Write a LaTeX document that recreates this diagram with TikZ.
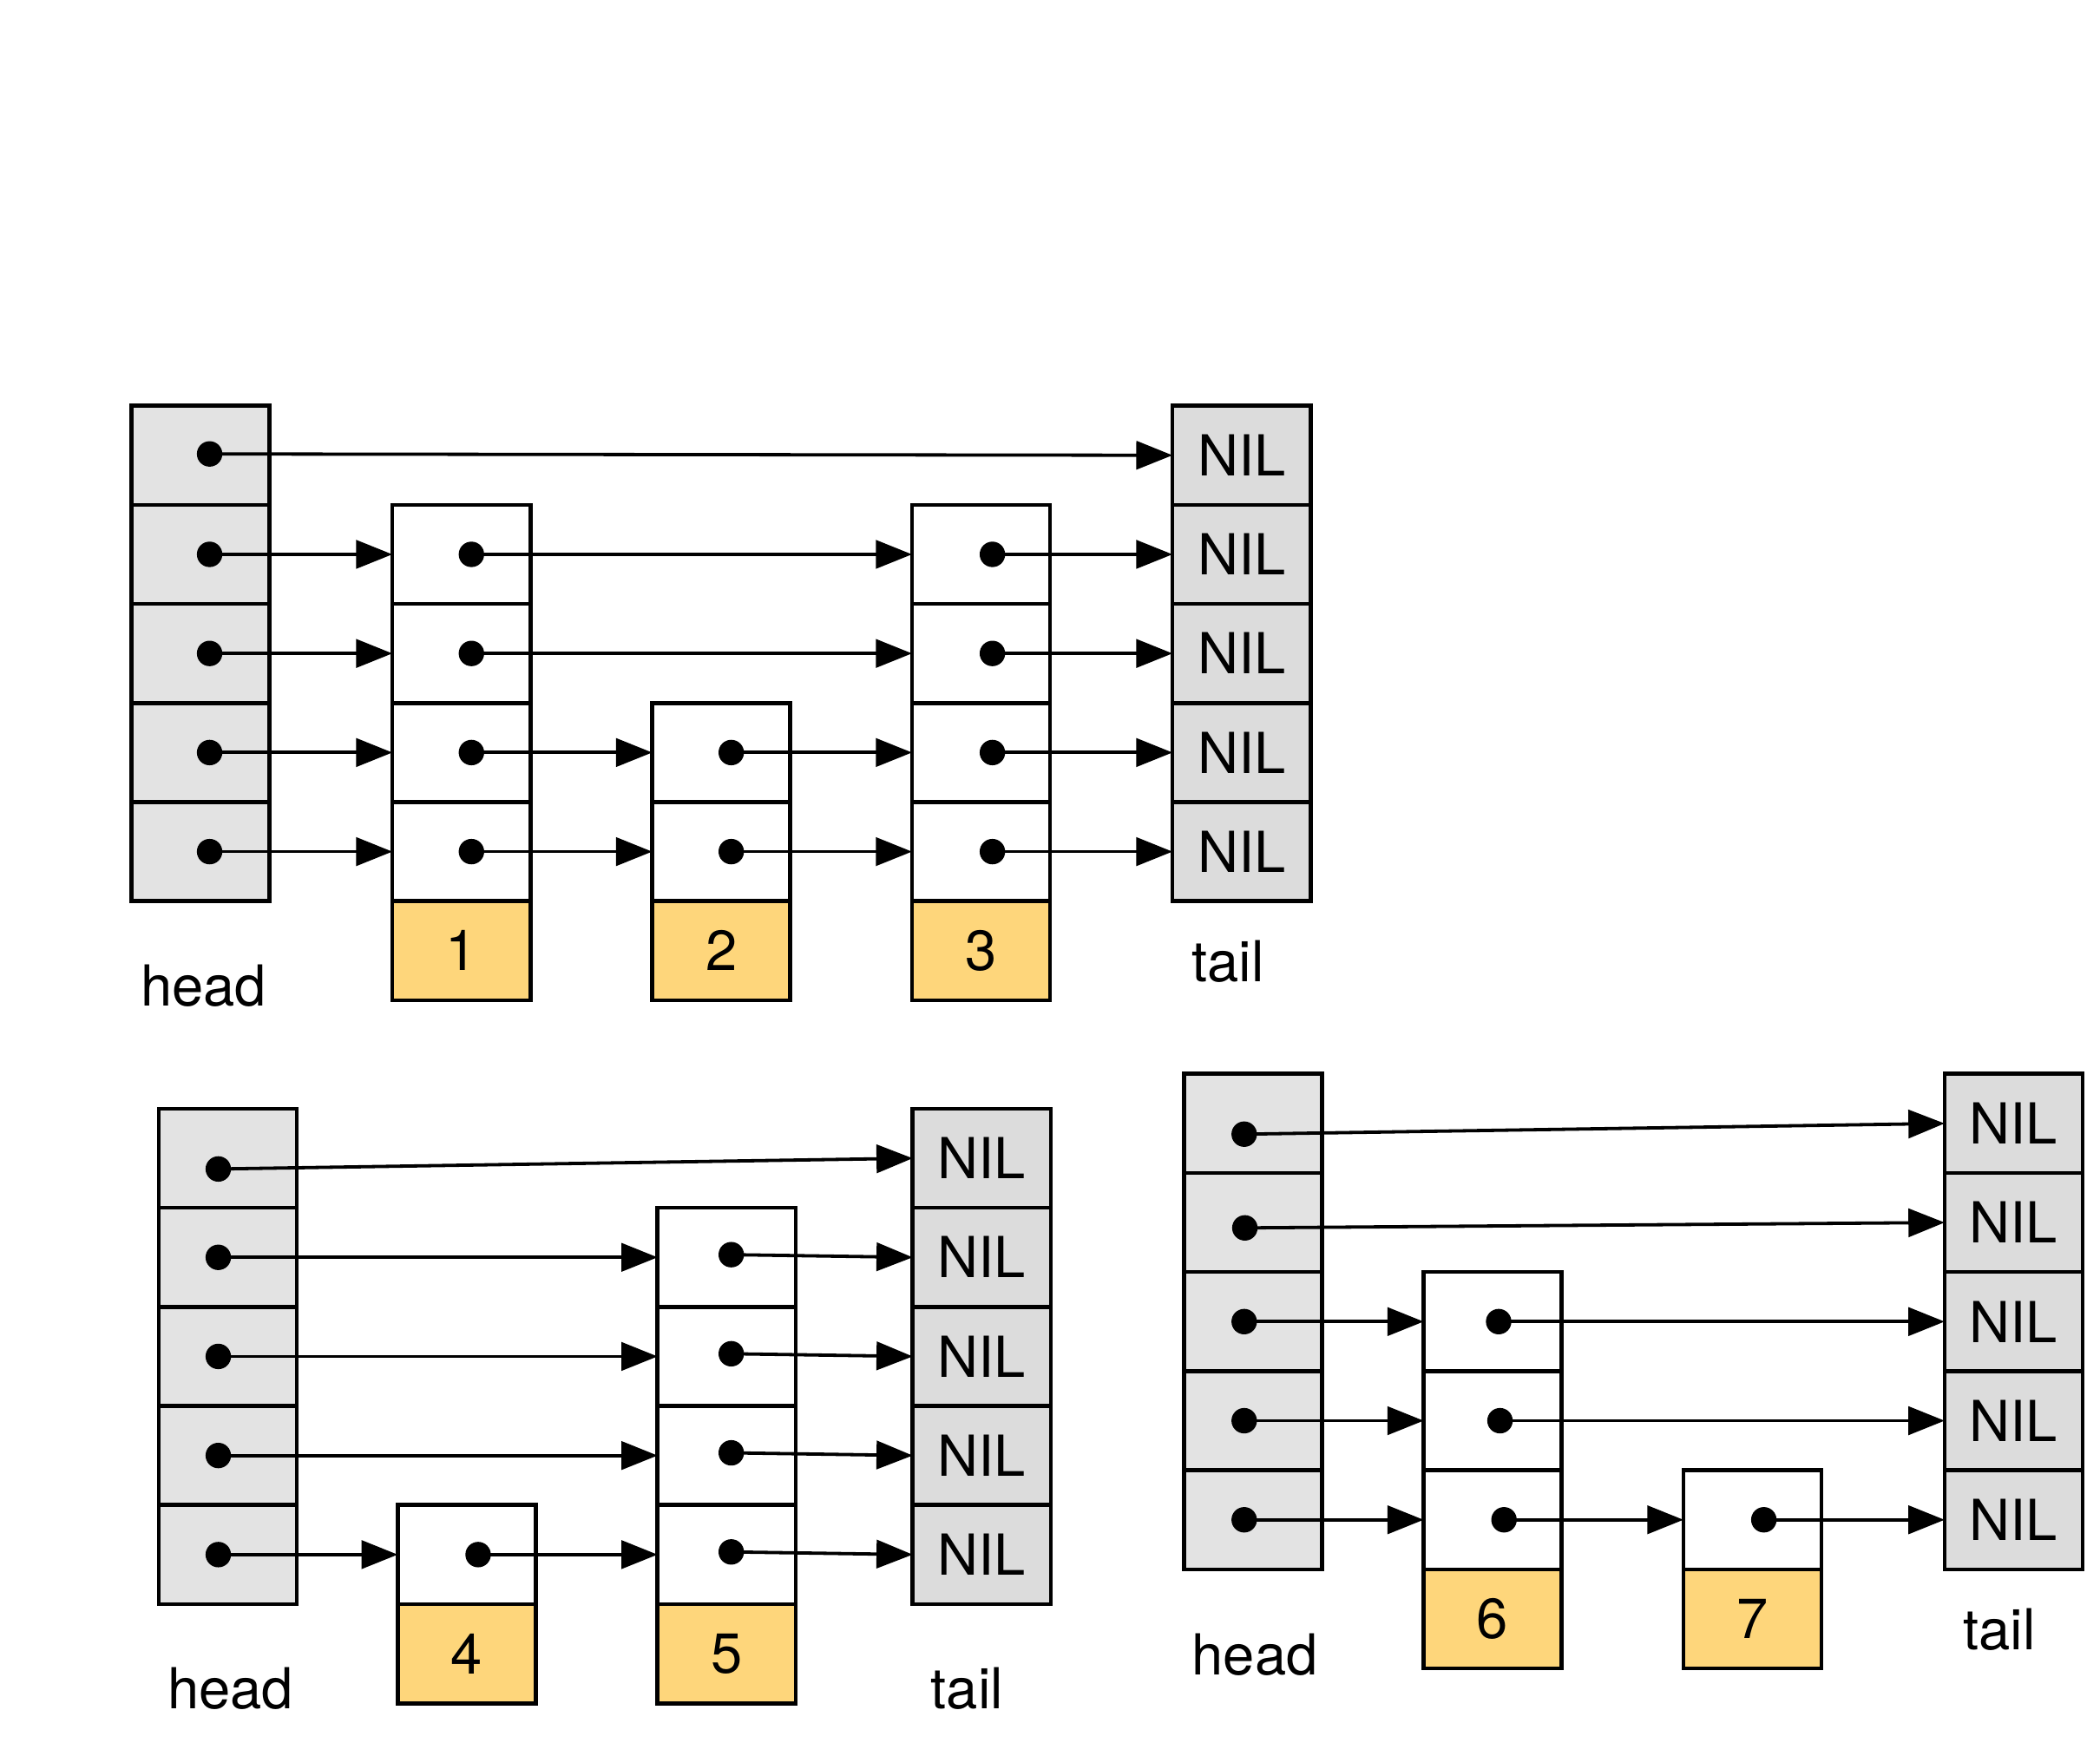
\documentclass[tikz,border=0pt]{standalone}
\usepackage{fontspec}
\setmainfont{TeX Gyre Heros}
\usetikzlibrary{arrows.meta}
\definecolor{headgray}{HTML}{E3E3E3}
\definecolor{tailgray}{HTML}{DCDCDC}
\definecolor{keyyellow}{HTML}{FED67B}
\begin{document}
\begin{tikzpicture}[x=0.01cm,y=-0.01cm,
 cell/.style={draw=black,line width=0.85pt,minimum width=1.03cm,minimum height=0.74cm,inner sep=0pt,outer sep=0pt},
 headcell/.style={cell,fill=headgray},
 tailcell/.style={cell,fill=tailgray,font=\fontsize{12}{14}\selectfont},
 nodecell/.style={cell,fill=white},
 keycell/.style={cell,fill=keyyellow,font=\fontsize{12}{14}\selectfont},
 dot/.style={circle,fill=black,inner sep=0pt,minimum size=0.19cm},
 ptr/.style={line width=0.7pt,-{Triangle[length=0.27cm,width=0.21cm]}},
 lbl/.style={font=\fontsize{12}{14}\selectfont,inner sep=0pt}]
\useasboundingbox (0,0) rectangle (1568,1311);

% ---------------- Diagram A (top) ----------------
\foreach \r/\y in {1/340,2/414,3/488,4/562,5/636} {
  \node[headcell] (Ah\r) at (149.5,\y) {};
  \node[tailcell] (At\r) at (927,\y) {NIL};
}
\foreach \r/\y in {2/414,3/488,4/562,5/636} {
  \node[nodecell] (A1c\r) at (344.5,\y) {};
  \node[nodecell] (A3c\r) at (732.5,\y) {};
}
\foreach \r/\y in {4/562,5/636} {
  \node[nodecell] (A2c\r) at (538.5,\y) {};
}
\node[keycell] (A1k) at (344.5,710) {1};
\node[keycell] (A2k) at (538.5,710) {2};
\node[keycell] (A3k) at (732.5,710) {3};
\node[lbl] (Ahl) at (152,736) {head};
\node[lbl] (Atl) at (917,718) {tail};

\draw[ptr] (Ah1.center) ++(0.07cm,0.01cm) coordinate (Ahd1) -- (At1.west);
\foreach \r in {2,...,5} {
  \path (Ah\r.center) ++(0.07cm,0) coordinate (Ahd\r);
  \path (A1c\r.center) ++(0.075cm,0) coordinate (A1d\r);
  \path (A3c\r.center) ++(0.085cm,0) coordinate (A3d\r);
  \draw[ptr] (Ahd\r) -- (A1c\r.west);
  \draw[ptr] (A3d\r) -- (At\r.west);
}
\foreach \r in {2,3} \draw[ptr] (A1d\r) -- (A3c\r.west);
\foreach \r in {4,5} {
  \path (A2c\r.center) ++(0.075cm,0) coordinate (A2d\r);
  \draw[ptr] (A1d\r) -- (A2c\r.west);
  \draw[ptr] (A2d\r) -- (A3c\r.west);
}
\foreach \p in {Ahd1,Ahd2,Ahd3,Ahd4,Ahd5,A1d2,A1d3,A1d4,A1d5,A2d4,A2d5,A3d2,A3d3,A3d4,A3d5}
  \node[dot] at (\p) {};

% ---------------- Diagram B (bottom left) ----------------
\foreach \r/\y in {1/865,2/939,3/1013,4/1087,5/1161} {
  \node[headcell] (Bh\r) at (170,\y) {};
  \node[tailcell] (Bt\r) at (733,\y) {NIL};
}
\foreach \r/\y in {2/939,3/1013,4/1087,5/1161} {
  \node[nodecell] (B5c\r) at (542.5,\y) {};
}
\node[nodecell] (B4c5) at (348.5,1161) {};
\node[keycell] (B4k) at (348.5,1235) {4};
\node[keycell] (B5k) at (542.5,1235) {5};
\node[lbl] (Bhl) at (172,1261) {head};
\node[lbl] (Btl) at (722,1261) {tail};

\path (Bh1.center) ++(-0.07cm,-0.08cm) coordinate (Bhd1);
\draw[ptr] (Bhd1) -- (Bt1.west);
\foreach \r in {2,...,5} {
  \path (Bh\r.center) ++(-0.07cm,0) coordinate (Bhd\r);
  \path (B5c\r.center) ++(0.035cm,0.02cm) coordinate (B5d\r);
  \draw[ptr] (B5d\r) -- (Bt\r.west);
}
\foreach \r in {2,3,4} \draw[ptr] (Bhd\r) -- (B5c\r.west);
\path (B4c5.center) ++(0.085cm,0) coordinate (B4d5);
\draw[ptr] (Bhd5) -- (B4c5.west);
\draw[ptr] (B4d5) -- (B5c5.west);
\foreach \p in {Bhd1,Bhd2,Bhd3,Bhd4,Bhd5,B4d5,B5d2,B5d3,B5d4,B5d5}
  \node[dot] at (\p) {};

% ---------------- Diagram C (bottom right) ----------------
\foreach \r/\y in {1/839,2/913,3/987,4/1061,5/1135} {
  \node[headcell] (Ch\r) at (935.5,\y) {};
  \node[tailcell] (Ct\r) at (1503.5,\y) {NIL};
}
\foreach \r/\y in {3/987,4/1061,5/1135} {
  \node[nodecell] (C6c\r) at (1114.5,\y) {};
}
\node[nodecell] (C7c5) at (1308.5,1135) {};
\node[keycell] (C6k) at (1114.5,1209) {6};
\node[keycell] (C7k) at (1308.5,1209) {7};
\node[lbl] (Chl) at (937,1236) {head};
\node[lbl] (Ctl) at (1493,1217) {tail};

\path (Ch1.center) ++(-0.065cm,-0.08cm) coordinate (Chd1);
\path (Ch2.center) ++(-0.06cm,-0.04cm) coordinate (Chd2);
\draw[ptr] (Chd1) -- (Ct1.west);
\draw[ptr] (Chd2) -- (Ct2.west);
\foreach \r in {3,4,5} {
  \path (Ch\r.center) ++(-0.065cm,0) coordinate (Chd\r);
  \draw[ptr] (Chd\r) -- (C6c\r.west);
}
\path (C6c3.center) ++(0.045cm,0) coordinate (C6d3);
\path (C6c4.center) ++(0.055cm,0) coordinate (C6d4);
\path (C6c5.center) ++(0.085cm,0) coordinate (C6d5);
\draw[ptr] (C6d3) -- (Ct3.west);
\draw[ptr] (C6d4) -- (Ct4.west);
\draw[ptr] (C6d5) -- (C7c5.west);
\path (C7c5.center) ++(0.085cm,0) coordinate (C7d5);
\draw[ptr] (C7d5) -- (Ct5.west);
\foreach \p in {Chd1,Chd2,Chd3,Chd4,Chd5,C6d3,C6d4,C6d5,C7d5}
  \node[dot] at (\p) {};
\end{tikzpicture}
\end{document}
